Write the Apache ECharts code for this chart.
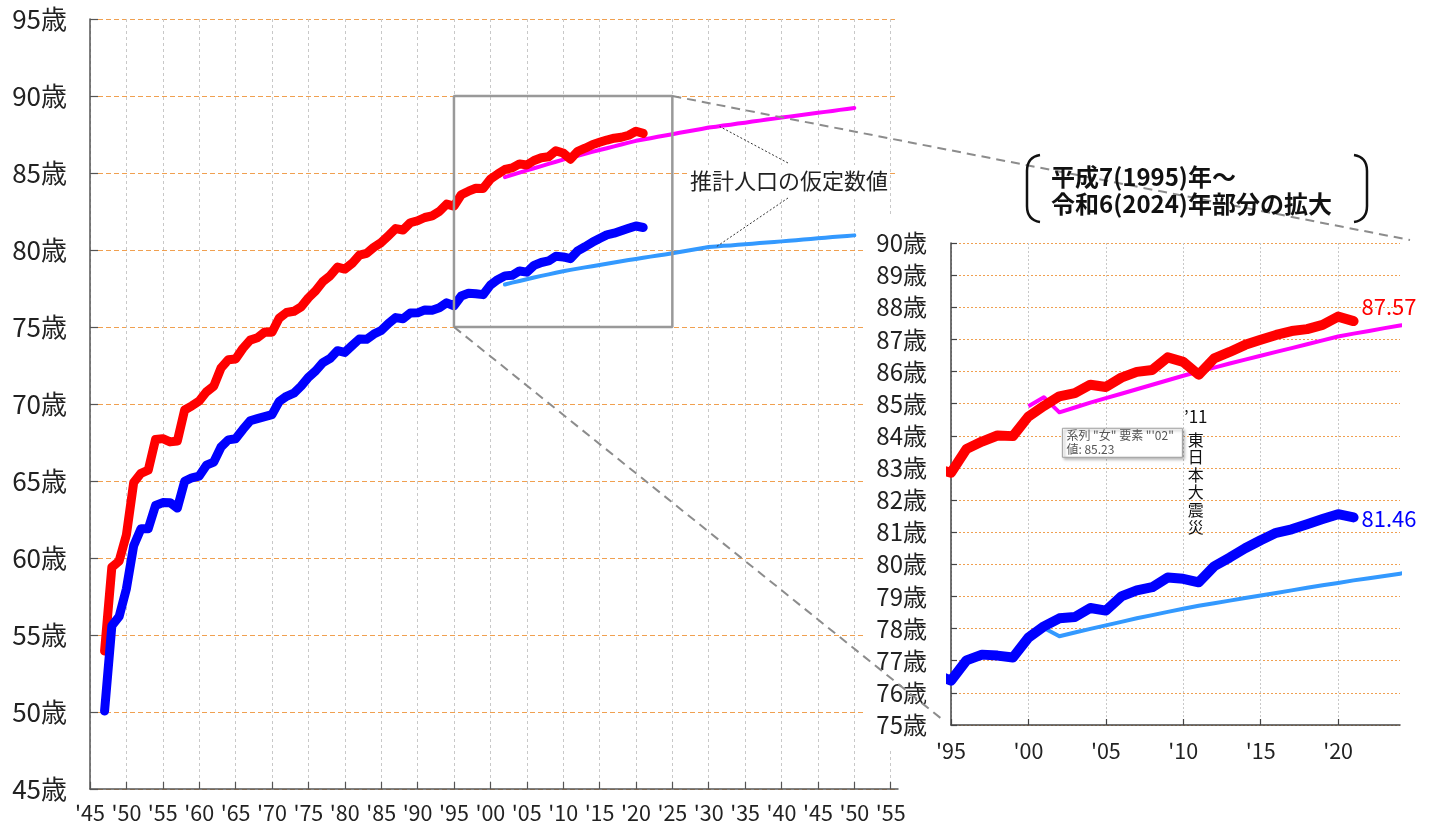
<!DOCTYPE html>
<html>
<head>
<meta charset="utf-8">
<script src="https://cdn.jsdelivr.net/npm/echarts@6/dist/echarts.min.js"></script>
<style>
  html, body { margin: 0; padding: 0; background: #fff; }
  #chart { width: 1436px; height: 825px; }
</style>
</head>
<body>
<div id="chart"></div>
<script>
// 平均寿命の年次推移（昭和22年～令和3年）
const years = [
  1947, 1948, 1949, 1950, 1951, 1952, 1953, 1954, 1955, 1956, 1957, 1958, 1959,
  1960, 1961, 1962, 1963, 1964, 1965, 1966, 1967, 1968, 1969, 1970, 1971, 1972,
  1973, 1974, 1975, 1976, 1977, 1978, 1979, 1980, 1981, 1982, 1983, 1984, 1985,
  1986, 1987, 1988, 1989, 1990, 1991, 1992, 1993, 1994, 1995, 1996, 1997, 1998,
  1999, 2000, 2001, 2002, 2003, 2004, 2005, 2006, 2007, 2008, 2009, 2010, 2011,
  2012, 2013, 2014, 2015, 2016, 2017, 2018, 2019, 2020, 2021
];
const female = [
  53.96, 59.40, 59.80, 61.50, 64.90, 65.50, 65.70, 67.69, 67.75, 67.54, 67.60, 69.61, 69.88,
  70.19, 70.79, 71.16, 72.34, 72.87, 72.92, 73.61, 74.15, 74.30, 74.67, 74.66, 75.58, 75.94,
  76.02, 76.31, 76.89, 77.35, 77.95, 78.33, 78.89, 78.76, 79.13, 79.66, 79.78, 80.18, 80.48,
  80.93, 81.39, 81.30, 81.77, 81.90, 82.11, 82.22, 82.51, 82.98, 82.85, 83.59, 83.82, 84.01,
  83.99, 84.60, 84.93, 85.23, 85.33, 85.59, 85.52, 85.81, 85.99, 86.05, 86.44, 86.30, 85.90,
  86.41, 86.61, 86.83, 86.99, 87.14, 87.26, 87.32, 87.45, 87.71, 87.57
];
const male = [
  50.06, 55.60, 56.20, 58.00, 60.80, 61.90, 61.90, 63.41, 63.60, 63.59, 63.24, 64.98, 65.21,
  65.32, 66.03, 66.23, 67.21, 67.67, 67.74, 68.35, 68.91, 69.05, 69.18, 69.31, 70.17, 70.50,
  70.70, 71.16, 71.73, 72.15, 72.69, 72.97, 73.46, 73.35, 73.79, 74.22, 74.20, 74.54, 74.78,
  75.23, 75.61, 75.54, 75.91, 75.92, 76.11, 76.09, 76.25, 76.57, 76.38, 77.01, 77.19, 77.16,
  77.10, 77.72, 78.07, 78.32, 78.36, 78.64, 78.56, 79.00, 79.19, 79.29, 79.59, 79.55, 79.44,
  79.94, 80.21, 80.50, 80.75, 80.98, 81.09, 81.25, 81.41, 81.56, 81.46
];

// 推計人口の仮定数値（2002年～2050年）
const projYears = [
  2002, 2003, 2004, 2005, 2006, 2007, 2008, 2009, 2010, 2011, 2012, 2013, 2014,
  2015, 2016, 2017, 2018, 2019, 2020, 2021, 2022, 2023, 2024, 2025, 2026, 2027,
  2028, 2029, 2030, 2031, 2032, 2033, 2034, 2035, 2036, 2037, 2038, 2039, 2040,
  2041, 2042, 2043, 2044, 2045, 2046, 2047, 2048, 2049, 2050
];
const projFemale = [
  84.73, 84.88, 85.03, 85.17, 85.31, 85.45, 85.59, 85.73, 85.87, 86.00, 86.12, 86.25, 86.37,
  86.49, 86.61, 86.73, 86.85, 86.97, 87.09, 87.18, 87.26, 87.35, 87.43, 87.52, 87.61, 87.69,
  87.78, 87.86, 87.95, 88.01, 88.08, 88.14, 88.21, 88.27, 88.34, 88.40, 88.47, 88.53, 88.60,
  88.66, 88.72, 88.78, 88.85, 88.91, 88.97, 89.03, 89.10, 89.16, 89.22
];
const projMale = [
  77.76, 77.88, 77.99, 78.10, 78.21, 78.32, 78.42, 78.52, 78.62, 78.71, 78.79, 78.87, 78.95,
  79.03, 79.11, 79.19, 79.27, 79.35, 79.42, 79.50, 79.57, 79.64, 79.71, 79.79, 79.87, 79.95,
  80.03, 80.11, 80.19, 80.23, 80.27, 80.30, 80.34, 80.38, 80.41, 80.45, 80.49, 80.52, 80.56,
  80.60, 80.64, 80.68, 80.72, 80.76, 80.80, 80.84, 80.87, 80.91, 80.95
];
// 拡大図に描かれる推計系列の先頭部分
const insetLeadYears = [2000, 2001];
const insetLeadFemale = [84.92, 85.20];
const insetLeadMale = [77.75, 78.02];

// 目盛
const mainYearTicks = [1945, 1950, 1955, 1960, 1965, 1970, 1975, 1980, 1985, 1990, 1995,
  2000, 2005, 2010, 2015, 2020, 2025, 2030, 2035, 2040, 2045, 2050, 2055];
const insetYearTicks = [1995, 2000, 2005, 2010, 2015, 2020];
const zoomRange = { years: [1995, 2025], ages: [75, 90] };

const FONT = '"Noto Sans CJK JP", "Noto Sans", sans-serif';
const RED = '#ff0000', BLUE = '#0000ff', MAGENTA = '#ff00ff', SKY = '#3399ff';
const GRID_ORANGE = '#f0a050';

const pairs = (xs, ys) => xs.map((x, i) => [x, ys[i]]);
const yearLabel = v => "'" + String(v % 100).padStart(2, '0');

const chart = echarts.init(document.getElementById('chart'), null, { renderer: 'canvas' });

const endLabel = (color, offset) => ({
  show: true, distance: 8, offset: offset, fontSize: 22, color: color, fontFamily: FONT,
  formatter: p => p.value[1].toFixed(2)
});

const option = {
  animation: false,
  backgroundColor: '#fff',
  textStyle: { fontFamily: FONT },
  grid: [
    { left: 90, right: 1436 - 898, top: 19, bottom: 825 - 789 },
    { left: 951, right: 1436 - 1400, top: 243, bottom: 825 - 725 }
  ],
  xAxis: [
    {
      type: 'value', gridIndex: 0, min: 1945, max: 2056, z: 0,
      axisLine: { show: true, onZero: false, lineStyle: { color: '#555', width: 1.5 } },
      axisTick: { show: true, inside: true, length: 7, customValues: mainYearTicks,
        lineStyle: { color: '#555', width: 1.2 } },
      axisLabel: { customValues: mainYearTicks, formatter: yearLabel, fontSize: 21.5,
        color: '#222', margin: 13, fontFamily: FONT },
      splitLine: { show: true, lineStyle: { color: '#c8c8c8', width: 1, type: [3, 3] } }
    },
    {
      type: 'value', gridIndex: 1, min: 1995, max: 2024, z: 2,
      axisLine: { show: true, onZero: false, lineStyle: { color: '#444', width: 1.5 } },
      axisTick: { show: true, inside: true, length: 6, customValues: insetYearTicks,
        lineStyle: { color: '#444', width: 1.2 } },
      axisLabel: { customValues: insetYearTicks, formatter: yearLabel, fontSize: 21.5,
        color: '#222', margin: 15, fontFamily: FONT },
      splitLine: { show: true, lineStyle: { color: '#c8c8c8', width: 1, type: [2, 2] } }
    }
  ],
  yAxis: [
    {
      type: 'value', gridIndex: 0, min: 45, max: 95, interval: 5, z: 0,
      axisLine: { show: true, onZero: false, lineStyle: { color: '#555', width: 1.5 } },
      axisTick: { show: true, inside: true, length: 8, lineStyle: { color: '#555', width: 1.2 } },
      axisLabel: { formatter: v => v + '歳', fontSize: 26, color: '#222', margin: 23, fontFamily: FONT },
      splitLine: { show: true, lineStyle: { color: GRID_ORANGE, width: 1, type: [5, 3] } }
    },
    {
      type: 'value', gridIndex: 1, min: 75, max: 90, interval: 1, z: 2,
      axisLine: { show: true, onZero: false, lineStyle: { color: '#444', width: 1.5 } },
      axisTick: { show: true, inside: true, length: 6, lineStyle: { color: '#444', width: 1.2 } },
      axisLabel: { formatter: v => v + '歳', fontSize: 24, color: '#222', margin: 24, fontFamily: FONT },
      splitLine: { show: true, lineStyle: { color: GRID_ORANGE, width: 1, type: [2, 2] } }
    }
  ],
  series: [
    // 全期間
    { name: '女推計', type: 'line', xAxisIndex: 0, yAxisIndex: 0, z: 2, silent: true,
      showSymbol: false, data: pairs(projYears, projFemale),
      lineStyle: { color: MAGENTA, width: 4, join: 'round', cap: 'round' } },
    { name: '男推計', type: 'line', xAxisIndex: 0, yAxisIndex: 0, z: 2, silent: true,
      showSymbol: false, data: pairs(projYears, projMale),
      lineStyle: { color: SKY, width: 4, join: 'round', cap: 'round' } },
    { name: '女', type: 'line', xAxisIndex: 0, yAxisIndex: 0, z: 3, silent: true,
      showSymbol: false, data: pairs(years, female),
      lineStyle: { color: RED, width: 9, join: 'round', cap: 'round' } },
    { name: '男', type: 'line', xAxisIndex: 0, yAxisIndex: 0, z: 3, silent: true,
      showSymbol: false, data: pairs(years, male),
      lineStyle: { color: BLUE, width: 9, join: 'round', cap: 'round' } },
    // 拡大範囲の枠
    { name: '拡大範囲', type: 'line', xAxisIndex: 0, yAxisIndex: 0, z: 4, silent: true,
      showSymbol: false,
      data: [
        [zoomRange.years[0], zoomRange.ages[0]], [zoomRange.years[0], zoomRange.ages[1]],
        [zoomRange.years[1], zoomRange.ages[1]], [zoomRange.years[1], zoomRange.ages[0]],
        [zoomRange.years[0], zoomRange.ages[0]]
      ],
      lineStyle: { color: '#999', width: 2.5 } },
    // 拡大図
    { name: '女推計(拡大)', type: 'line', xAxisIndex: 1, yAxisIndex: 1, z: 5, silent: true,
      showSymbol: false,
      data: pairs(insetLeadYears.concat(projYears), insetLeadFemale.concat(projFemale)),
      lineStyle: { color: MAGENTA, width: 4, join: 'round' } },
    { name: '男推計(拡大)', type: 'line', xAxisIndex: 1, yAxisIndex: 1, z: 5, silent: true,
      showSymbol: false,
      data: pairs(insetLeadYears.concat(projYears), insetLeadMale.concat(projMale)),
      lineStyle: { color: SKY, width: 4, join: 'round' } },
    { name: '女(拡大)', type: 'line', xAxisIndex: 1, yAxisIndex: 1, z: 6, silent: true,
      showSymbol: false, data: pairs(years, female),
      endLabel: endLabel(RED, [0, -14]),
      lineStyle: { color: RED, width: 10, join: 'round', cap: 'round' } },
    { name: '男(拡大)', type: 'line', xAxisIndex: 1, yAxisIndex: 1, z: 6, silent: true,
      showSymbol: false, data: pairs(years, male),
      endLabel: endLabel(BLUE, [0, 1]),
      lineStyle: { color: BLUE, width: 10, join: 'round', cap: 'round' } }
  ]
};

chart.setOption(option);

// 注記・拡大図の枠などの装飾
const px = (grid, pt) => chart.convertToPixel({ gridIndex: grid }, pt);
const boxTR = px(0, [zoomRange.years[1], zoomRange.ages[1]]);
const boxBL = px(0, [zoomRange.years[0], zoomRange.ages[0]]);
const insetTR = px(1, [2024, 90]);
const insetBL = px(1, [1995, 75]);
const leadF = px(0, [2031.5, 88.02]);
const leadM = px(0, [2031, 80.2]);
const tipAnchor = px(1, [2002, 85.23]);
const quake = px(1, [2011, 84.9]);

const dashed = { stroke: '#8c8c8c', lineWidth: 2, lineDash: [9, 6] };
const dotted = { stroke: '#333', lineWidth: 1, lineDash: [2, 2] };
const bracketStyle = { stroke: '#111', lineWidth: 2.5, fill: null };

// 丸括弧（上端・縦線・下端）
function bracket(xOuter, xEnd, yTop, yBottom) {
  return [
    { type: 'bezierCurve', z: 10, silent: true,
      shape: { x1: xEnd, y1: yTop, x2: xOuter, y2: yTop + 16, cpx1: xOuter, cpy1: yTop + 2 },
      style: bracketStyle },
    { type: 'line', z: 10, silent: true,
      shape: { x1: xOuter, y1: yTop + 16, x2: xOuter, y2: yBottom - 16 }, style: bracketStyle },
    { type: 'bezierCurve', z: 10, silent: true,
      shape: { x1: xOuter, y1: yBottom - 16, x2: xEnd, y2: yBottom, cpx1: xOuter, cpy1: yBottom - 2 },
      style: bracketStyle }
  ];
}

chart.setOption({
  graphic: { elements: [
    // 拡大図の背景
    { type: 'rect', z: 1, silent: true,
      shape: { x: 863, y: 217, width: 1436 - 863, height: 748 - 217 },
      style: { fill: '#fff' } },
    // 推計注記の背景と文字
    { type: 'rect', z: 1, silent: true,
      shape: { x: 688, y: 165, width: 201, height: 31 }, style: { fill: '#fff' } },
    { type: 'text', z: 10, silent: true, x: 690, y: 181,
      style: { text: '推計人口の仮定数値', font: '22px ' + FONT, fill: '#222',
        textAlign: 'left', textVerticalAlign: 'middle' } },
    { type: 'line', z: 10, silent: true,
      shape: { x1: 788, y1: 163, x2: leadF[0], y2: leadF[1] }, style: dotted },
    { type: 'line', z: 10, silent: true,
      shape: { x1: 788, y1: 198, x2: leadM[0], y2: leadM[1] }, style: dotted },
    // 拡大範囲を結ぶ破線
    { type: 'line', z: 10, silent: true,
      shape: { x1: boxTR[0], y1: boxTR[1], x2: insetTR[0] + 10, y2: insetTR[1] - 3 }, style: dashed },
    { type: 'line', z: 10, silent: true,
      shape: { x1: boxBL[0], y1: boxBL[1], x2: insetBL[0] - 8, y2: insetBL[1] - 5 }, style: dashed },
    // 見出し
    ...bracket(1027, 1040, 155, 222),
    ...bracket(1367, 1354, 155, 222),
    { type: 'text', z: 10, silent: true, x: 1051, y: 177,
      style: { text: '平成7(1995)年～', font: 'bold 24px ' + FONT, fill: '#111',
        textAlign: 'left', textVerticalAlign: 'middle' } },
    { type: 'text', z: 10, silent: true, x: 1051, y: 204,
      style: { text: '令和6(2024)年部分の拡大', font: 'bold 24px ' + FONT, fill: '#111',
        textAlign: 'left', textVerticalAlign: 'middle' } },
    // 吹き出し
    { type: 'rect', z: 10, silent: true,
      shape: { x: tipAnchor[0] + 3, y: tipAnchor[1] + 32, width: 120, height: 29 },
      style: { fill: '#fff', stroke: '#a0a0a0', lineWidth: 1,
        shadowBlur: 3, shadowOffsetX: 2, shadowOffsetY: 2, shadowColor: 'rgba(0,0,0,0.35)' } },
    { type: 'text', z: 11, silent: true, x: tipAnchor[0] + 7, y: tipAnchor[1] + 39.5,
      style: { text: '系列 "女" 要素 "\'02"', font: '12px ' + FONT, fill: '#555',
        textAlign: 'left', textVerticalAlign: 'middle' } },
    { type: 'text', z: 11, silent: true, x: tipAnchor[0] + 7, y: tipAnchor[1] + 53,
      style: { text: '値: 85.23', font: '12px ' + FONT, fill: '#555',
        textAlign: 'left', textVerticalAlign: 'middle' } },
    // 東日本大震災
    { type: 'text', z: 11, silent: true, x: quake[0] - 3, y: quake[1] + 10,
      style: { text: '\u201911', font: '17px ' + FONT, fill: '#111',
        textAlign: 'center', textVerticalAlign: 'middle' } },
    { type: 'text', z: 11, silent: true, x: quake[0] - 3, y: quake[1] + 24,
      style: { text: '東\n日\n本\n大\n震\n災', font: '16px ' + FONT, fill: '#111',
        lineHeight: 17.5, textAlign: 'center', textVerticalAlign: 'top' } }
  ] }
});
</script>
</body>
</html>
